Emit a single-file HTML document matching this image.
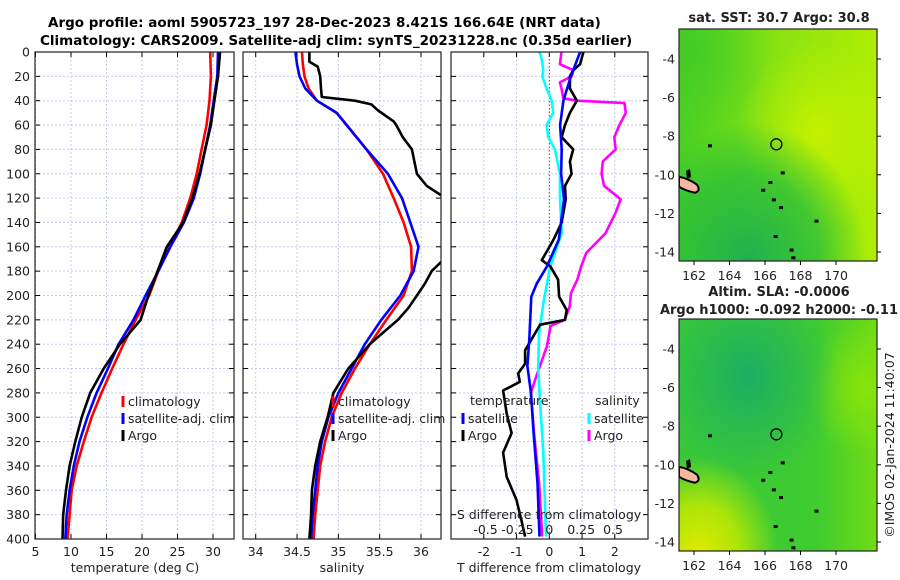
<!DOCTYPE html>
<html><head><meta charset="utf-8">
<style>
html,body{margin:0;padding:0;background:#fff;}
svg{display:block;font-family:"DejaVu Sans","Liberation Sans",sans-serif;}
</style></head>
<body>
<svg id="fig" width="900" height="580" viewBox="0 0 900 580" xmlns="http://www.w3.org/2000/svg">
<defs>
<clipPath id="c1"><rect x="35" y="52" width="199" height="487"/></clipPath>
<clipPath id="c2"><rect x="243" y="52" width="198" height="487"/></clipPath>
<clipPath id="c3"><rect x="451" y="52" width="197" height="487"/></clipPath>
<clipPath id="cm1"><rect x="679" y="29" width="198" height="232"/></clipPath>
<clipPath id="cm2"><rect x="679" y="319" width="198" height="232"/></clipPath>
<linearGradient id="g1" x1="0" y1="0" x2="1" y2="0"><stop offset="0" stop-color="#48d024"/><stop offset="0.55" stop-color="#8ee410"/><stop offset="1" stop-color="#b0ee04"/></linearGradient>
<radialGradient id="g1b" cx="0.35" cy="1" r="0.6"><stop offset="0" stop-color="#1fb050" stop-opacity="1"/><stop offset="0.6" stop-color="#2cc038" stop-opacity="0.8"/><stop offset="1" stop-color="#2cc038" stop-opacity="0"/></radialGradient>
<radialGradient id="g1c" cx="0.7" cy="0.45" r="0.4"><stop offset="0" stop-color="#c8f200" stop-opacity="0.9"/><stop offset="1" stop-color="#c8f200" stop-opacity="0"/></radialGradient>
<radialGradient id="g1d" cx="0.1" cy="0.1" r="0.35"><stop offset="0" stop-color="#3cc828" stop-opacity="0.6"/><stop offset="1" stop-color="#3cc828" stop-opacity="0"/></radialGradient>
<linearGradient id="g2" x1="0" y1="0" x2="1" y2="0"><stop offset="0" stop-color="#38c83a"/><stop offset="0.7" stop-color="#40cc30"/><stop offset="1" stop-color="#70dc14"/></linearGradient>
<radialGradient id="g2b" cx="0.35" cy="0.25" r="0.45"><stop offset="0" stop-color="#1cae62"/><stop offset="1" stop-color="#1cae62" stop-opacity="0"/></radialGradient>
<radialGradient id="g2c" cx="0.1" cy="1" r="0.4"><stop offset="0" stop-color="#e0ea00"/><stop offset="0.5" stop-color="#b8e804" stop-opacity="0.9"/><stop offset="1" stop-color="#b8e804" stop-opacity="0"/></radialGradient>
<radialGradient id="g2d" cx="0.95" cy="0.3" r="0.3"><stop offset="0" stop-color="#88e40c"/><stop offset="1" stop-color="#88e40c" stop-opacity="0"/></radialGradient>
</defs>
<text x="48" y="27" font-size="13.5" font-weight="bold">Argo profile: aoml 5905723_197 28-Dec-2023 8.421S 166.64E (NRT data)</text>
<text x="40" y="45" font-size="13.5" font-weight="bold">Climatology: CARS2009. Satellite-adj clim: synTS_20231228.nc (0.35d earlier)</text>
<g id="p1"></g>
<g id="p2"></g>
<g id="p3"></g>
<g id="m1"></g>
<g id="m2"></g>
<text transform="translate(894,445) rotate(-90)" text-anchor="middle" font-size="12.5" fill="#222">©IMOS 02-Jan-2024 11:40:07</text>
</svg>
<script>
// ---- data ----
const depthTicks = [0,20,40,60,80,100,120,140,160,180,200,220,240,260,280,300,320,340,360,380,400];
const tDepth = [0,20,40,60,80,100,120,140,160,180,200,220,240,260,280,300,320,340,360,380,400];
const tClim = [29.6,29.7,29.5,29.1,28.4,27.7,26.8,25.6,23.9,22.3,21.0,19.1,17.4,15.8,14.3,12.9,11.8,10.8,10.1,9.8,9.5];
const tSat = [30.7,30.6,30.1,29.6,28.9,28.2,27.3,25.9,24.0,22.3,20.5,18.8,16.7,15.2,13.6,12.3,11.2,10.4,9.8,9.4,9.2];
const tArgo = [31.0,30.7,30.2,29.7,28.9,28.1,27.1,25.8,23.5,22.2,20.9,19.8,16.9,14.6,12.7,11.5,10.6,9.8,9.3,8.9,8.8];
const tTicks = [5,10,15,20,25,30];
const sDepth = [0,10,20,30,40,50,60,80,100,120,140,160,180,200,220,240,260,280,300,320,340,360,380,400];
const sClim = [34.56,34.57,34.59,34.64,34.74,34.98,35.10,35.34,35.54,35.67,35.79,35.88,35.89,35.79,35.58,35.38,35.20,35.04,34.92,34.84,34.78,34.75,34.72,34.70];
const sSat = [34.48,34.50,34.53,34.60,34.74,34.98,35.10,35.34,35.60,35.77,35.87,35.97,35.91,35.75,35.52,35.32,35.16,35.00,34.88,34.80,34.75,34.72,34.69,34.67];
const sArgoDepth = [0,8,12,20,30,37,40,43,48,57,60,70,80,90,100,110,118,130,160,172,180,190,200,210,220,230,240,260,280,300,320,340,360,380,400];
const sArgo = [34.65,34.65,34.75,34.78,34.79,34.80,35.2,35.4,35.48,35.67,35.70,35.78,35.89,35.92,35.95,36.07,36.25,36.4,36.4,36.25,36.13,36.05,35.95,35.85,35.72,35.55,35.38,35.12,34.94,34.87,34.78,34.72,34.68,34.67,34.65];
const sTicks = [34,34.5,35,35.5,36];
const dtSatDepth = [0,10,20,40,60,80,100,121,154,176,190,201,236,258,280,313,354,398];
const dtSat = [0.94,0.80,0.66,0.43,0.33,0.38,0.36,0.45,0.29,-0.07,-0.38,-0.55,-0.61,-0.67,-0.56,-0.48,-0.36,-0.3];
const dtArgoDepth = [0,10,15,20,30,40,50,60,70,80,90,100,110,121,140,154,171,176,187,201,212,220,224,245,256,264,271,278,297,313,329,349,368,385,398];
const dtArgo = [1.04,0.94,0.73,0.63,0.63,0.84,0.63,0.48,0.38,0.73,0.63,0.68,0.48,0.5,0.38,0.13,-0.23,0.03,0.27,0.3,0.53,0.48,-0.28,-0.74,-0.74,-0.95,-0.9,-1.41,-1.3,-1.15,-1.41,-1.3,-1.0,-0.85,-0.74];
const dsSatDepth = [0,5,15,20,30,40,50,60,70,80,100,121,149,176,204,231,258,286,327,398];
const dsSat = [-0.078,-0.06,-0.047,-0.055,-0.021,0.018,0.031,-0.021,-0.008,0.044,0.083,0.084,0.097,0.008,-0.043,-0.08,-0.087,-0.074,-0.048,-0.026];
const dsArgoDepth = [0,10,15,20,25,30,38,40,42,50,60,70,80,90,100,110,121,132,149,165,176,187,198,209,220,225,242,264,280,313,354,398];
const dsArgo = [0.096,0.083,0.19,0.175,0.083,0.096,0.11,0.22,0.59,0.60,0.55,0.51,0.52,0.42,0.41,0.43,0.56,0.52,0.44,0.29,0.25,0.22,0.17,0.16,0.12,0.01,-0.02,-0.094,-0.145,-0.12,-0.08,-0.056];
const dtTicks = [-2,-1,0,1,2];
const dsTicks = [-0.5,-0.25,0,0.25,0.5];
const dsTickLabels = ["-0.5","-0.25","0","0.25","0.5"];
const latTicks = [-4,-6,-8,-10,-12,-14];
const lonTicks = [162,164,166,168,170];
const argoLon = 166.64, argoLat = -8.421;

// ---- helpers ----
const NS = "http://www.w3.org/2000/svg";
function mk(tag, attrs, parent){const e=document.createElementNS(NS,tag);for(const k in attrs)e.setAttribute(k,attrs[k]);parent.appendChild(e);return e;}
const yTop=52, yBot=539;
const yD = d => yTop + d*(yBot-yTop)/400;
function lin(d0,d1,r0,r1){return v=>r0+(v-d0)*(r1-r0)/(d1-d0);}

function frame(g, x0, x1, xTicks, xScale, labels, showY){
  mk('rect',{x:x0,y:yTop,width:x1-x0,height:yBot-yTop,fill:'#fff'},g);
  depthTicks.forEach(d=>{
    const y=yD(d);
    const gl=mk('line',{x1:x0,x2:x1,y1:y,y2:y,stroke:'#c4cdf0','stroke-width':1,'stroke-dasharray':'2,2'},g);
    
    
    mk('line',{x1:x0,x2:x0+5,y1:y,y2:y,stroke:'#000'},g);
    mk('line',{x1:x1-5,x2:x1,y1:y,y2:y,stroke:'#000'},g);
    if(showY){
      const t=mk('text',{x:30,y:y+4.5,'text-anchor':'end','font-size':12.5,fill:'#222'},g);
      t.textContent=d;
      
      
    }
  });
  xTicks.forEach((v,i)=>{
    const x=xScale(v);
    if(v!==0 || !labels.zeroDotted){
      const gl=mk('line',{x1:x,x2:x,y1:yTop,y2:yBot,stroke:'#c4cdf0','stroke-width':1,'stroke-dasharray':'2,2'},g);
      
      
    }
    mk('line',{x1:x,x2:x,y1:yBot-5,y2:yBot,stroke:'#000'},g);
    mk('line',{x1:x,x2:x,y1:yTop,y2:yTop+5,stroke:'#000'},g);
    const t=mk('text',{x:x,y:556,'text-anchor':'middle','font-size':12.5,fill:'#222'},g);
    t.textContent=labels.fmt?labels.fmt(v):v;
    
    
  });
}
function border(g,x0,x1){mk('rect',{x:x0,y:yTop,width:x1-x0,height:yBot-yTop,fill:'none',stroke:'#222','stroke-width':1.2},g);}
function line(g, xs, ds, sx, color, clip, name){
  const pts=xs.map((v,i)=>sx(v).toFixed(1)+','+yD(ds[i]).toFixed(1)).join(' ');
  const p=mk('polyline',{points:pts,fill:'none',stroke:color,'stroke-width':2.6,'stroke-linejoin':'round','clip-path':'url(#'+clip+')'},g);
  
  
}
function legendItem(g,x,y,color,label,name){
  mk('rect',{x:x-1.5,y:y-9,width:3,height:11,fill:color},g);
  const t=mk('text',{x:x+5,y:y+1,'font-size':12.5,fill:'#222'},g);
  t.textContent=label;
  
  
}
function txt(g,x,y,s,size,anchor,name,extra){
  const t=mk('text',Object.assign({x:x,y:y,'font-size':size,'text-anchor':anchor,fill:'#222'},extra||{}),g);
  t.textContent=s;
  
  
  return t;
}

// ---- panel 1 temperature ----
const p1=document.getElementById('p1');
const xT=lin(5,33,35.5,234.3);
frame(p1,35,234,tTicks,xT,{},true);
line(p1,tClim,tDepth,xT,'#ff0000','c1','temp-climatology-line');
line(p1,tSat,tDepth,xT,'#0000ff','c1','temp-satellite-line');
line(p1,tArgo,tDepth,xT,'#000000','c1','temp-argo-line');
border(p1,35,234);
legendItem(p1,123,405,'#ff0000','climatology','legend-climatology');
legendItem(p1,123,422,'#0000ff','satellite-adj. clim','legend-satellite');
legendItem(p1,123,439,'#000000','Argo','legend-argo');
txt(p1,135,572,'temperature (deg C)',12.5,'middle','x-axis-title-temperature');

// ---- panel 2 salinity ----
const p2=document.getElementById('p2');
const xS=lin(34,36,255.7,421);
frame(p2,243,441,sTicks,xS,{},false);
line(p2,sClim,sDepth,xS,'#ff0000','c2','sal-climatology-line');
line(p2,sSat,sDepth,xS,'#0000ff','c2','sal-satellite-line');
line(p2,sArgo,sArgoDepth,xS,'#000000','c2','sal-argo-line');
border(p2,243,441);
legendItem(p2,333,405,'#ff0000','climatology','legend-climatology-2');
legendItem(p2,333,422,'#0000ff','satellite-adj. clim','legend-satellite-2');
legendItem(p2,333,439,'#000000','Argo','legend-argo-2');
txt(p2,342,572,'salinity',12.5,'middle','x-axis-title-salinity');

// ---- panel 3 differences ----
const p3=document.getElementById('p3');
const xDT=lin(0,1,549.3,582.05);
const xDS=lin(0,1,549.3,676.8);
frame(p3,451,648,dtTicks,xDT,{zeroDotted:true},false);
const zl=mk('line',{x1:xDT(0),x2:xDT(0),y1:yTop,y2:yBot,stroke:'#4a4a2a','stroke-width':1,'stroke-dasharray':'1.5,2'},p3);


line(p3,dsArgo,dsArgoDepth,xDS,'#ff00ff','c3','sal-diff-argo-line');
line(p3,dsSat,dsSatDepth,xDS,'#00ffff','c3','sal-diff-satellite-line');
line(p3,dtArgo,dtArgoDepth,xDT,'#000000','c3','temp-diff-argo-line');
line(p3,dtSat,dtSatDepth,xDT,'#0000ff','c3','temp-diff-satellite-line');
border(p3,451,648);
txt(p3,470,405,'temperature',12.5,'start','legend-temperature-heading');
legendItem(p3,463,422,'#0000ff','satellite','legend-temp-satellite');
legendItem(p3,463,439,'#000000','Argo','legend-temp-argo');
txt(p3,595,405,'salinity',12.5,'start','legend-salinity-heading');
legendItem(p3,589,422,'#00ffff','satellite','legend-sal-satellite');
legendItem(p3,589,439,'#ff00ff','Argo','legend-sal-argo');
txt(p3,549,519,'S difference from climatology',12.5,'middle','s-axis-title');
dsTicks.forEach((v,i)=>{txt(p3,xDS(v),534,dsTickLabels[i],12.5,'middle','s-tick-label');});
txt(p3,549,572,'T difference from climatology',12.5,'middle','x-axis-title-tdiff');

// ---- maps ----
const lonX=lin(162,170,694,836);
function map(g, top, fills, title, titleY, titleName){
  const latY=lin(-4,-14,top+30,top+223);
  mk('rect',{x:679,y:top,width:198,height:232,fill:fills[0]},g);
  fills.slice(1).forEach(f=>mk('rect',{x:679,y:top,width:198,height:232,fill:f},g));
  const c=mk('g',{'clip-path':'url(#'+(top<100?'cm1':'cm2')+')'},g);
  mk('path',{d:`M679 ${latY(-10.1)} q10 2 18 8 q4 6 -2 8 q-10 -2 -16 -6z`,fill:'#f5b7a0',stroke:'#000','stroke-width':2},c);
  mk('path',{d:`M686 ${latY(-9.8)} l4 -2 l1 8 l-4 2z`,fill:'#000'},c);
  [[167.0,-9.9],[166.3,-10.4],[165.9,-10.8],[166.5,-11.3],[166.9,-11.7],[166.6,-13.2],[167.5,-13.9],[167.6,-14.3],[162.9,-8.5],[168.9,-12.4]].forEach(p=>{
    const r=mk('rect',{x:lonX(p[0])-2,y:latY(p[1])-1.5,width:4,height:3,fill:'#000'},c);
    
    
  });
  const ci=mk('circle',{cx:lonX(argoLon),cy:latY(argoLat),r:5.5,fill:'none',stroke:'#000','stroke-width':1.3},g);
  
  
  mk('rect',{x:679,y:top,width:198,height:232,fill:'none',stroke:'#222','stroke-width':1.2},g);
  latTicks.forEach(v=>{
    const y=latY(v);
    mk('line',{x1:877,x2:881,y1:y,y2:y,stroke:'#000'},g);
    txt(g,675,y+4.5,String(v),12.5,'end','lat-tick-label');
  });
  lonTicks.forEach(v=>{
    const x=lonX(v);
    mk('line',{x1:x,x2:x,y1:top+232,y2:top+236,stroke:'#000'},g);
    txt(g,x,top+251,String(v),12.5,'middle','lon-tick-label');
  });
  title.forEach((s,i)=>txt(g,779,titleY[i],s,13,'middle',titleName[i],{'font-weight':'bold'}));
}
map(document.getElementById('m1'),29,['url(#g1)','url(#g1c)','url(#g1d)','url(#g1b)'],['sat. SST: 30.7 Argo: 30.8'],[22],['sst-map-title']);
map(document.getElementById('m2'),319,['url(#g2)','url(#g2d)','url(#g2b)','url(#g2c)'],['Altim. SLA: -0.0006','Argo h1000: -0.092 h2000: -0.11'],[296,314],['sla-map-title','argo-height-title']);
</script>
</body></html>
